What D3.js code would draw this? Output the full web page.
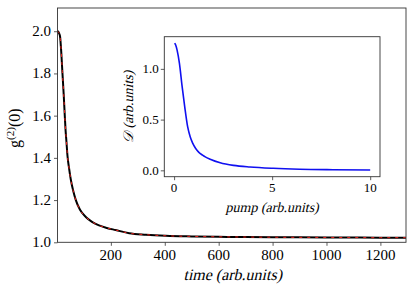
<!DOCTYPE html>
<html><head><meta charset="utf-8">
<script src="https://cdn.jsdelivr.net/npm/d3@7"></script>
<style>html,body{margin:0;background:#fff;}</style></head>
<body><svg id="c" width="415" height="291"></svg>
<script>
// Main panel data: g2(0) vs time
const timeVals = [1, 3, 5, 8, 11.5, 15, 20, 25, 29, 32, 35, 39, 45, 51, 60, 70, 85, 107, 130, 156, 185, 218, 268, 330, 404, 500, 600, 700, 800, 1000, 1200, 1295];
const g2Vals   = [2.0, 2.0, 1.997, 1.99, 1.975, 1.92, 1.81, 1.70, 1.60, 1.53, 1.48, 1.41, 1.35, 1.30, 1.245, 1.20, 1.155, 1.12, 1.097, 1.08, 1.068, 1.058, 1.043, 1.036, 1.031, 1.028, 1.026, 1.025, 1.024, 1.023, 1.022, 1.022];
const mainXTicks = [200, 400, 600, 800, 1000, 1200];
const mainYTicks = [1.0, 1.2, 1.4, 1.6, 1.8, 2.0];

// Inset data: D vs pump
const pumpVals = [0.03, 0.08, 0.15, 0.27, 0.41, 0.54, 0.69, 0.82, 0.94, 1.1, 1.25, 1.45, 1.59, 1.84, 2.35, 3.03, 3.87, 5.05, 6.4, 8.1, 10];
const dVals    = [1.254, 1.235, 1.187, 1.056, 0.825, 0.628, 0.43, 0.33, 0.27, 0.215, 0.18, 0.15, 0.133, 0.11, 0.075, 0.049, 0.033, 0.020, 0.011, 0.006, 0.003];
const insetXTicks = [0, 5, 10];
const insetYTicks = [0.0, 0.5, 1.0];

const svg = d3.select("#c");
const fmt1 = d3.format(".1f");
const fmtInt = d3.format("d");
const axisCol = "#333";
const FONT = '"Liberation Serif"';

function styleAxis(g){
  g.selectAll("path.domain").remove();
  g.selectAll(".tick line").attr("stroke", axisCol).attr("stroke-width", 0.8);
  g.selectAll(".tick text").remove();
}
function tickLabelsX(scale, vals, fmt, yBase, fs){
  vals.forEach(v => svg.append("text").attr("x", scale(v)).attr("y", yBase)
    .attr("text-anchor", "middle").attr("font-size", fs).style("font-family", FONT).text(fmt(v)));
}
function tickLabelsY(scale, vals, fmt, xRight, off, fs){
  vals.forEach(v => svg.append("text").attr("x", xRight).attr("y", scale(v) + off)
    .attr("text-anchor", "end").attr("font-size", fs).style("font-family", FONT).text(fmt(v)));
}

// ---- main panel ----
const M = {l: 57.5, r: 406, t: 8, b: 242.3};
const x = d3.scaleLinear().domain([2, 1295]).range([M.l, M.r]);
const y = d3.scaleLinear().domain([1.0, 2.11]).range([M.b, M.t]);

const mainData = timeVals.map((t, i) => [t, g2Vals[i]]);
const line = d3.line().x(d => x(d[0])).y(d => y(d[1])).curve(d3.curveMonotoneX);

svg.append("clipPath").attr("id", "mclip").append("rect")
  .attr("x", M.l).attr("y", M.t).attr("width", M.r - M.l).attr("height", M.b - M.t);

const gm = svg.append("g").attr("clip-path", "url(#mclip)");
gm.append("path").datum(mainData).attr("d", line).attr("fill", "none").attr("stroke", "#000").attr("stroke-width", 2);
gm.append("path").datum(mainData).attr("d", line).attr("fill", "none").attr("stroke", "#e8201a").attr("stroke-width", 1).attr("stroke-dasharray", "3,5");

svg.append("g").attr("transform", `translate(0,${M.b})`)
  .call(d3.axisBottom(x).tickValues(mainXTicks).tickSize(3.5))
  .call(styleAxis);
svg.append("g").attr("transform", `translate(${M.l},0)`)
  .call(d3.axisLeft(y).tickValues(mainYTicks).tickSize(3.5))
  .call(styleAxis);
tickLabelsX(x, mainXTicks, fmtInt, 259.5, 15);
tickLabelsY(y, mainYTicks, fmt1, M.l - 6.5, 5, 15);

svg.append("rect").attr("x", M.l).attr("y", M.t).attr("width", M.r - M.l).attr("height", M.b - M.t)
  .attr("fill", "none").attr("stroke", axisCol).attr("stroke-width", 0.9);

// main labels (slant via skew)
svg.append("text").attr("transform", `translate(${(M.l + M.r) / 2 + 1},280) skewX(-13)`).attr("text-anchor", "middle")
  .attr("font-size", 16).style("font-family", FONT).text("time (arb.units)");

const yl = svg.append("text").attr("transform", `translate(20,${(M.t + M.b) / 2 + 3}) rotate(-90)`)
  .attr("text-anchor", "middle").attr("font-size", 16).style("font-family", FONT);
yl.append("tspan").text("g");
yl.append("tspan").attr("font-size", 11).attr("dy", -6).text("(2)");
yl.append("tspan").attr("dy", 6).text("(0)");

// ---- inset ----
const I = {l: 164.3, r: 380, t: 36.7, b: 176.7};
const ix = d3.scaleLinear().domain([-0.5, 10.5]).range([I.l, I.r]);
const iy = d3.scaleLinear().domain([-0.0627, 1.317]).range([I.b, I.t]);

svg.append("rect").attr("x", I.l).attr("y", I.t).attr("width", I.r - I.l).attr("height", I.b - I.t)
  .attr("fill", "#fff");

const insetData = pumpVals.map((p, i) => [p, dVals[i]]);
const iline = d3.line().x(d => ix(d[0])).y(d => iy(d[1])).curve(d3.curveMonotoneX);
svg.append("path").datum(insetData).attr("d", iline).attr("fill", "none").attr("stroke", "#1010f0").attr("stroke-width", 1.6);

svg.append("g").attr("transform", `translate(0,${I.b})`)
  .call(d3.axisBottom(ix).tickValues(insetXTicks).tickSize(3.5))
  .call(styleAxis);
svg.append("g").attr("transform", `translate(${I.l},0)`)
  .call(d3.axisLeft(iy).tickValues(insetYTicks).tickSize(3.5))
  .call(styleAxis);
tickLabelsX(ix, insetXTicks, fmtInt, 192, 13);
tickLabelsY(iy, insetYTicks, fmt1, I.l - 5.5, 4.5, 13);

svg.append("rect").attr("x", I.l).attr("y", I.t).attr("width", I.r - I.l).attr("height", I.b - I.t)
  .attr("fill", "none").attr("stroke", axisCol).attr("stroke-width", 0.9);

svg.append("text").attr("transform", `translate(${(I.l + I.r) / 2},212) skewX(-13)`).attr("text-anchor", "middle")
  .attr("font-size", 14).style("font-family", FONT).text("pump (arb.units)");

const iyl = svg.append("text").attr("transform", `translate(133,${(I.t + I.b) / 2}) rotate(-90) skewX(-13)`)
  .attr("text-anchor", "middle").attr("font-size", 14).style("font-family", FONT);
iyl.append("tspan").text("𝒟");
iyl.append("tspan").text(" (arb.units)");
</script></body></html>
